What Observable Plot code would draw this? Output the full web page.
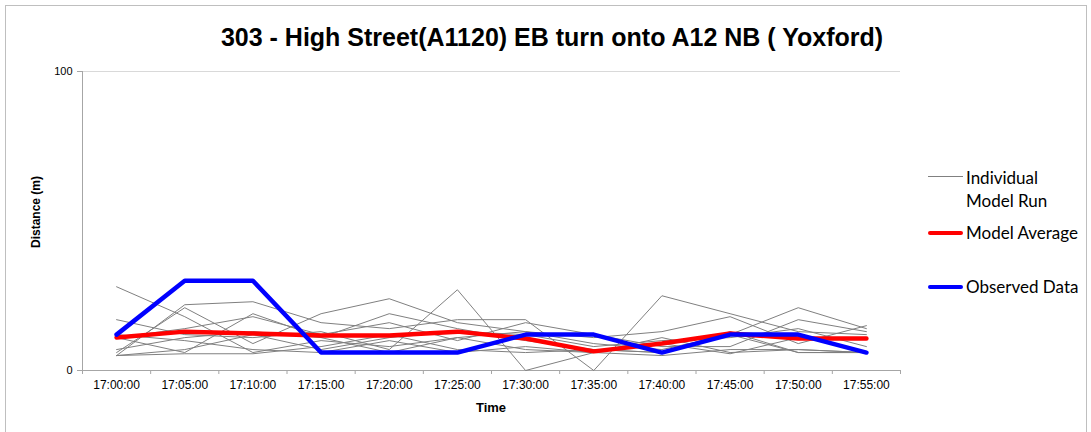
<!DOCTYPE html>
<html>
<head>
<meta charset="utf-8">
<script src="https://cdn.jsdelivr.net/npm/d3@7"></script>
<script src="https://cdn.jsdelivr.net/npm/@observablehq/plot@0.6"></script>
<style>
  html, body { margin: 0; padding: 0; background: #fff; }
  #wrap { position: relative; width: 1091px; height: 432px; overflow: hidden; font-family: "Liberation Sans", Arial, sans-serif; }
  #frame { position: absolute; left: 5px; top: 5px; width: 1080px; height: 440px; border: 1px solid #bfbfbf; }
  #title { position: absolute; left: 0; width: 1104px; top: 22px; text-align: center; font-weight: bold; font-size: 25px; line-height: 30px; }
  #chart { position: absolute; left: 0; top: 0; }
  .lab { position: absolute; font-weight: bold; font-size: 12px; }
  #ylab { left: 36px; top: 212px; transform: translate(-50%, -50%) rotate(-90deg); white-space: nowrap; }
  #xlab { left: 491px; top: 407px; transform: translate(-50%, -50%); font-size: 13px; }
  .leg { position: absolute; font-family: Lato, "Open Sans", sans-serif; font-size: 17px; line-height: 23px; white-space: nowrap; }
  .sw { position: absolute; left: 928px; width: 35px; }
</style>
</head>
<body>
<div id="wrap">
  <div id="frame"></div>
  <div id="chart"></div>
  <div id="title">303 - High Street(A1120) EB turn onto A12 NB ( Yoxford)</div>
  <div class="lab" id="ylab">Distance (m)</div>
  <div class="lab" id="xlab">Time</div>
  <div class="sw" style="top:176px;height:1px;background:#808080"></div>
  <div class="leg" style="left:966px;top:166px">Individual<br>Model Run</div>
  <div class="sw" style="top:231px;height:4px;background:#ff0000;border-radius:2px"></div>
  <div class="leg" style="left:966px;top:221px">Model Average</div>
  <div class="sw" style="top:285px;height:4px;background:#0000ff;border-radius:2px"></div>
  <div class="leg" style="left:966px;top:275px">Observed Data</div>
</div>
<script>
const times = ["17:00:00","17:05:00","17:10:00","17:15:00","17:20:00","17:25:00","17:30:00","17:35:00","17:40:00","17:45:00","17:50:00","17:55:00"];

const run1  = [28, 18, 6, 10, 8, 11, 13, 9, 7, 12, 21, 14];
const run2  = [17, 12, 11, 13, 7, 27, 0, 6, 11, 6, 7, 6];
const run3  = [5, 22, 23, 16, 14, 17, 17, 0, 25, 19, 13, 12];
const run4  = [6, 21, 9, 19, 24, 16, 13, 11, 13, 18, 9, 15];
const run5  = [11, 14, 18, 12, 16, 10, 16, 12, 8, 8, 17, 13];
const run6  = [7, 11, 13, 11, 19, 14, 10, 7, 6, 13, 6, 6];
const run7  = [5, 7, 12, 7, 11, 13, 12, 8, 10, 11, 14, 8];
const run8  = [12, 10, 7, 6, 10, 6, 8, 6, 9, 5.6, 11, 11];
const run9  = [11, 6, 19, 11, 6, 11, 7, 6, 5, 7, 7, 6];
const run10 = [5, 5.6, 5.6, 8, 12, 7, 6, 7, 6, 12, 6, 6];

const modelAverage = [11, 13, 12.4, 11.7, 11.7, 13, 10.7, 6.4, 9, 12.4, 10.7, 10.7];
const observed     = [12, 30, 30, 6, 6, 6, 12, 12, 6, 12, 12, 6];

const yTicks = [0, 100];

const runs = [run1, run2, run3, run4, run5, run6, run7, run8, run9, run10];
const runData = runs.flatMap((r, k) => r.map((v, i) => ({run: k, i, v})));
const avgData = modelAverage.map((v, i) => ({i, v}));
const obsData = observed.map((v, i) => ({i, v}));

const chart = Plot.plot({
  width: 1091,
  height: 432,
  marginLeft: 82,
  marginRight: 191,
  marginTop: 71,
  marginBottom: 62,
  x: {type: "linear", domain: [-0.5, times.length - 0.5]},
  y: {domain: [0, 100]},
  style: {fontFamily: "'Liberation Sans', Arial, sans-serif", fontSize: "12px", color: "#000", background: "transparent", overflow: "visible"},
  marks: [
    Plot.ruleY([100], {stroke: "#d9d9d9"}),
    Plot.ruleX([-0.5], {stroke: "#a6a6a6"}),
    Plot.ruleY([0], {stroke: "#a6a6a6"}),
    Plot.axisX({ticks: d3.range(-0.5, times.length, 1), tickFormat: () => "", tickSize: 4, stroke: "#a6a6a6", strokeOpacity: 1, label: null}),
    Plot.axisX({ticks: d3.range(times.length), tickFormat: i => times[i], tickSize: 0, tickPadding: 10, label: null}),
    Plot.axisY({ticks: yTicks, tickSize: 5, tickPadding: 5, stroke: "#a6a6a6", strokeOpacity: 1, label: null, fontSize: 11}),
    Plot.line(runData, {x: "i", y: "v", z: "run", stroke: "#808080", strokeWidth: 1}),
    Plot.line(avgData, {x: "i", y: "v", stroke: "#ff0000", strokeWidth: 4.5}),
    Plot.line(obsData, {x: "i", y: "v", stroke: "#0000ff", strokeWidth: 4.5})
  ]
});
document.getElementById("chart").appendChild(chart);
</script>
</body>
</html>
